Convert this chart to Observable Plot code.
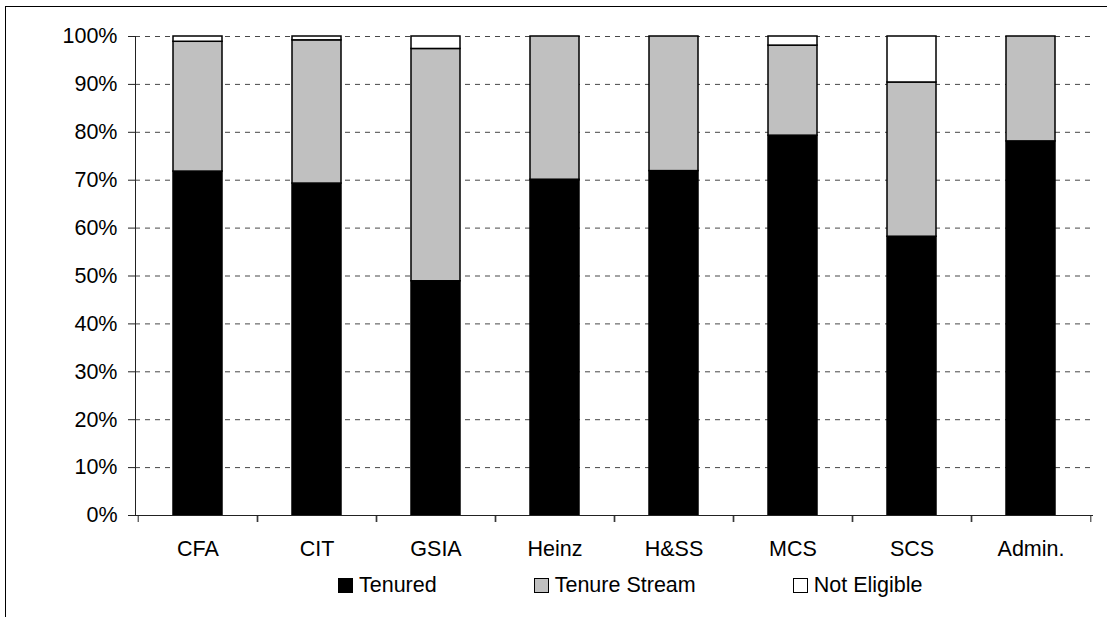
<!DOCTYPE html>
<html>
<head>
<meta charset="utf-8">
<script src="https://cdn.jsdelivr.net/npm/d3@7"></script>
<script src="https://cdn.jsdelivr.net/npm/@observablehq/plot@0.6"></script>
<style>
  html, body { margin: 0; padding: 0; background: white; overflow: hidden; width: 1107px; height: 617px; }
  #frame { position: absolute; left: 5px; top: 6px; width: 3000px; height: 3000px; border-left: 1.5px solid #000; border-top: 1.5px solid #000; }
  #chart { position: absolute; left: 0; top: 0; }
  #legend { position: absolute; left: 338px; top: 574px; display: flex; gap: 97px; font-family: "Liberation Sans", Arial, sans-serif; font-size: 21.5px; color: #000; }
  .item { display: flex; align-items: center; gap: 6px; line-height: 22px; }
  .sw { width: 13px; height: 13px; border: 1px solid #000; display: inline-block; }
</style>
</head>
<body>
<div id="frame"></div>
<div id="chart"></div>
<div id="legend"></div>
<script>
const categories = ["CFA", "CIT", "GSIA", "Heinz", "H&SS", "MCS", "SCS", "Admin."];
const seriesNames = ["Tenured", "Tenure Stream", "Not Eligible"];
const seriesColors = ["#000000", "#c0c0c0", "#ffffff"];
const tenured      = [71.8, 69.3, 48.9, 70.1, 71.9, 79.3, 58.2, 78.1];
const tenureStream = [27.1, 29.9, 48.5, 29.9, 28.1, 18.8, 32.2, 21.9];
const notEligible  = [1.1, 0.8, 2.6, 0, 0, 1.9, 9.6, 0];
const yTicks = [0, 10, 20, 30, 40, 50, 60, 70, 80, 90, 100];

const seriesValues = [tenured, tenureStream, notEligible];
const data = [];
categories.forEach((c, i) => {
  seriesNames.forEach((s, j) => data.push({category: c, series: s, value: seriesValues[j][i]}));
});

const W = 1107, H = 560, mL = 135, mR = 15, mT = 36, mB = 45;
const half = (W - mL - mR) / categories.length / 2;
const font = "Liberation Sans, Arial, sans-serif";

const chart = Plot.plot({
  width: W, height: H,
  marginLeft: mL, marginRight: mR, marginTop: mT, marginBottom: mB,
  style: {fontFamily: font, fontSize: "21.5px", color: "#000", background: "transparent"},
  x: {domain: categories, paddingInner: 0.59, paddingOuter: 0.295, axis: null, label: null},
  y: {domain: [0, 100], axis: null, label: null},
  color: {domain: seriesNames, range: seriesColors},
  marks: [
    Plot.gridY(yTicks.filter(t => t > 0), {stroke: "#333", strokeOpacity: 0.9, strokeDasharray: "5,5"}),
    Plot.barY(data, {x: "category", y: "value", fill: "series", stroke: "#000", strokeWidth: 1.5}),
    Plot.frame({anchor: "left", stroke: "#222"}),
    Plot.frame({anchor: "bottom", stroke: "#222"}),
    Plot.axisY(yTicks, {tickSize: 7, tickPadding: 11, tickFormat: d => d + "%", stroke: "#222", fontSize: 21.5, fill: "#000", label: null}),
    Plot.axisX({tickSize: 7, dx: -half, text: null, stroke: "#222", label: null}),
    Plot.axisX({tickSize: 7, dx: half, text: null, stroke: "#222", label: null}),
    Plot.axisX({tickSize: 0, tickPadding: 25, fontSize: 21.5, fill: "#000", label: null})
  ]
});
document.getElementById("chart").appendChild(chart);

const legend = document.getElementById("legend");
seriesNames.forEach((s, j) => {
  const it = document.createElement("div");
  it.className = "item";
  const sw = document.createElement("span");
  sw.className = "sw";
  sw.style.background = seriesColors[j];
  const tx = document.createElement("span");
  tx.textContent = s;
  it.appendChild(sw); it.appendChild(tx);
  legend.appendChild(it);
});
</script>
</body>
</html>
